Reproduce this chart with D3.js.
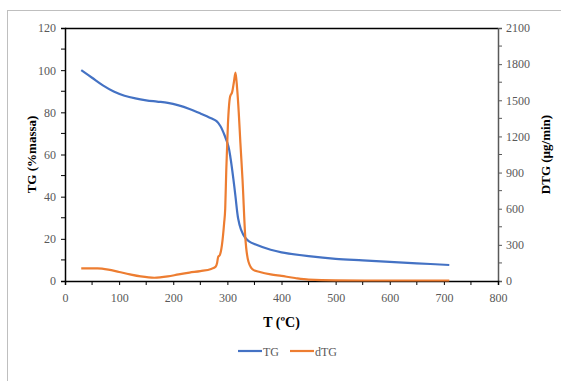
<!DOCTYPE html>
<html>
<head>
<meta charset="utf-8">
<script src="https://cdn.jsdelivr.net/npm/d3@7"></script>
<style>
  body { margin: 0; background: #fff; }
  svg { display: block; }
  .tick text { font-family: "Liberation Serif", serif; font-size: 12px; fill: #595959; }
</style>
</head>
<body>
<svg></svg>
<script>
// TG curve (% massa) vs temperature
var tgTemp = [30, 50, 70, 90, 110, 130, 150, 170, 190, 210, 230, 250, 270, 280, 287, 295, 302, 306, 311, 315, 320, 325, 333, 340, 350, 380, 400, 450, 500, 550, 600, 650, 710];
var tgValue = [100, 96.4, 92.8, 89.9, 87.9, 86.6, 85.7, 85.1, 84.5, 83.3, 81.6, 79.5, 77.2, 75.8, 73.5, 69, 63.8, 58, 48.6, 40, 29.5, 24.5, 20.5, 18.8, 17.5, 14.8, 13.6, 11.8, 10.5, 9.8, 9.1, 8.4, 7.6];

// dTG curve (µg/min) vs temperature
var dtgTemp = [30, 60, 80, 100, 120, 140, 165, 190, 210, 230, 250, 270, 278, 281, 283, 286, 290, 294, 296, 298, 301, 305, 309, 312, 315, 318, 321, 324, 328, 333, 339, 348, 360, 380, 400, 425, 450, 500, 600, 710];
var dtgValue = [105, 105, 95, 75, 55, 38, 27, 38, 55, 70, 82, 100, 117, 150, 200, 215, 300, 480, 600, 925, 1300, 1530, 1570, 1650, 1730, 1600, 1400, 1150, 840, 370, 160, 92, 75, 55, 42, 25, 12, 5, 4, 4];

var xTicks = [0, 100, 200, 300, 400, 500, 600, 700, 800];
var tgTicks = [0, 20, 40, 60, 80, 100, 120];
var dtgTicks = [0, 300, 600, 900, 1200, 1500, 1800, 2100];

var W = 561, H = 381;
var pLeft = 65, pRight = 498, pTop = 28, pBottom = 281;

var svg = d3.select("svg").attr("width", W).attr("height", H);

// outer frame
svg.append("rect")
  .attr("x", 7.5).attr("y", 10.5)
  .attr("width", 560).attr("height", 380)
  .attr("fill", "#fff").attr("stroke", "#bfbfbf");

var x = d3.scaleLinear().domain([0, 800]).range([pLeft, pRight]);
var yL = d3.scaleLinear().domain([0, 120]).range([pBottom, pTop]);
var yR = d3.scaleLinear().domain([0, 2100]).range([pBottom, pTop]);

// top frame line
svg.append("line")
  .attr("x1", pLeft).attr("x2", pRight)
  .attr("y1", pTop + 0.5).attr("y2", pTop + 0.5)
  .attr("stroke", "#000").attr("stroke-width", 1.5);

// minor ticks
function minor(g, scale, vals, orient) {
  vals.forEach(function(v) {
    var p = scale(v);
    if (orient === "bottom") g.append("line").attr("x1", p).attr("x2", p).attr("y1", pBottom).attr("y2", pBottom + 4);
    if (orient === "left") g.append("line").attr("y1", p).attr("y2", p).attr("x1", pLeft).attr("x2", pLeft - 4);
    if (orient === "right") g.append("line").attr("y1", p).attr("y2", p).attr("x1", pRight).attr("x2", pRight + 4);
  });
}
var minorG = svg.append("g").attr("stroke-width", 1);
minor(minorG.append("g").attr("stroke", "#000"), x, d3.range(50, 800, 100), "bottom");
minor(minorG.append("g").attr("stroke", "#000"), yL, d3.range(10, 120, 20), "left");
minor(minorG.append("g").attr("stroke", "#595959"), yR, d3.range(150, 2100, 300), "right");

// right axis
var gR = svg.append("g").attr("transform", "translate(" + pRight + ",0)")
  .call(d3.axisRight(yR).tickValues(dtgTicks).tickSize(4).tickPadding(4).tickFormat(d3.format("d")));
gR.select(".domain").attr("stroke", "#595959").attr("stroke-width", 1.5);
gR.selectAll(".tick line").attr("stroke", "#595959");

// left axis
var gL = svg.append("g").attr("transform", "translate(" + pLeft + ",0)")
  .call(d3.axisLeft(yL).tickValues(tgTicks).tickSize(4).tickPadding(5));
gL.select(".domain").attr("stroke", "#000").attr("stroke-width", 1.5);

// bottom axis
var gX = svg.append("g").attr("transform", "translate(0," + pBottom + ")")
  .call(d3.axisBottom(x).tickValues(xTicks).tickSize(4).tickPadding(6));
gX.select(".domain").attr("stroke", "#000").attr("stroke-width", 1.5);
gX.selectAll("text").attr("dy", "0.9em");

// curves
var tgLine = d3.line()
  .x(function(d, i) { return x(tgTemp[i]); })
  .y(function(d) { return yL(d); })
  .curve(d3.curveCatmullRom.alpha(0.5));
var dtgLine = d3.line()
  .x(function(d, i) { return x(dtgTemp[i]); })
  .y(function(d) { return yR(d); })
  .curve(d3.curveMonotoneX);

svg.append("path").datum(tgValue)
  .attr("d", tgLine).attr("fill", "none")
  .attr("stroke", "#4472C4").attr("stroke-width", 2.2);
svg.append("path").datum(dtgValue)
  .attr("d", dtgLine).attr("fill", "none")
  .attr("stroke", "#ED7D31").attr("stroke-width", 2.2);

// axis titles
svg.append("text")
  .attr("transform", "translate(36," + ((pTop + pBottom) / 2) + ") rotate(-90)")
  .attr("text-anchor", "middle")
  .style("font-family", "Liberation Serif, serif").style("font-weight", "bold").style("font-size", "13px")
  .text("TG (%massa)");
svg.append("text")
  .attr("transform", "translate(550," + ((pTop + pBottom) / 2) + ") rotate(-90)")
  .attr("text-anchor", "middle")
  .style("font-family", "Liberation Serif, serif").style("font-weight", "bold").style("font-size", "13px")
  .text("DTG (µg/min)");
svg.append("text")
  .attr("x", (pLeft + pRight) / 2).attr("y", 327)
  .attr("text-anchor", "middle")
  .style("font-family", "Liberation Serif, serif").style("font-weight", "bold").style("font-size", "14px")
  .text("T (ºC)");

// legend
var legend = [{ name: "TG", color: "#4472C4", x: 238 }, { name: "dTG", color: "#ED7D31", x: 290 }];
var lg = svg.append("g");
legend.forEach(function(l) {
  lg.append("line").attr("x1", l.x).attr("x2", l.x + 24).attr("y1", 351).attr("y2", 351)
    .attr("stroke", l.color).attr("stroke-width", 2.2);
  lg.append("text").attr("x", l.x + 25).attr("y", 355.5)
    .style("font-family", "Liberation Serif, serif").style("font-size", "12px").style("fill", "#595959")
    .text(l.name);
});
</script>
</body>
</html>
